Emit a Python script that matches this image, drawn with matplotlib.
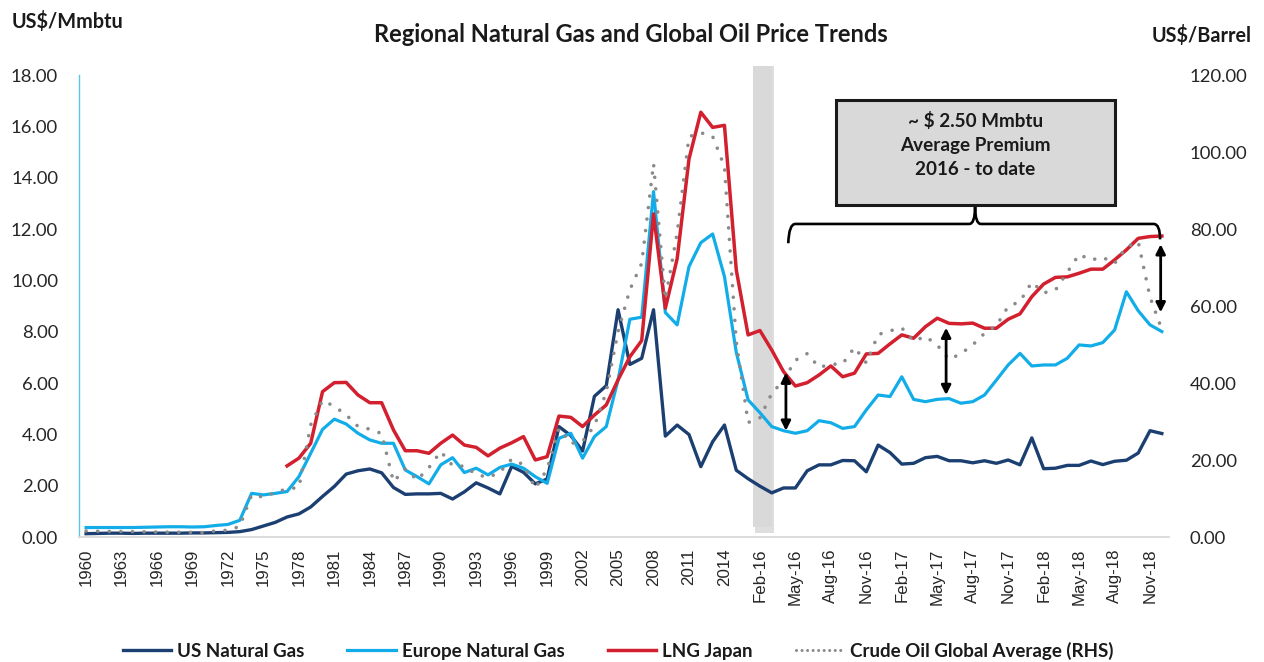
import matplotlib
matplotlib.use("Agg")
import matplotlib.pyplot as plt
import matplotlib.ticker as mticker
from matplotlib.lines import Line2D
from matplotlib.patches import Rectangle, PathPatch
from matplotlib.path import Path
import numpy as np

plt.rcParams['font.family'] = ['Lato', 'DejaVu Sans']

# categories: annual 1960-2015, then monthly Jan-16 .. Dec-18
years = [str(y) for y in range(1960, 2016)]
months = [m + "-" + yy for yy in ["16", "17", "18"]
          for m in ["Jan", "Feb", "Mar", "Apr", "May", "Jun",
                    "Jul", "Aug", "Sep", "Oct", "Nov", "Dec"]]
labels = years + months

# US$/Mmbtu
us_gas = [0.14, 0.15, 0.16, 0.16, 0.15, 0.16, 0.16, 0.16, 0.16, 0.17,
          0.17, 0.18, 0.19, 0.22, 0.30, 0.44, 0.58, 0.79, 0.91, 1.18,
          1.59, 1.98, 2.46, 2.59, 2.66, 2.51, 1.94, 1.67, 1.69, 1.69,
          1.71, 1.49, 1.77, 2.12, 1.92, 1.69, 2.76, 2.53, 2.08, 2.27,
          4.31, 3.96, 3.36, 5.49, 5.90, 8.86, 6.73, 6.97, 8.86, 3.94,
          4.37, 4.00, 2.75, 3.72, 4.37, 2.61,
          2.28, 1.99, 1.73, 1.92, 1.92, 2.59, 2.82, 2.82, 2.99, 2.98, 2.55, 3.59,
          3.30, 2.85, 2.88, 3.10, 3.15, 2.98, 2.98, 2.90, 2.98, 2.88, 3.01, 2.82,
          3.87, 2.67, 2.69, 2.80, 2.80, 2.97, 2.83, 2.96, 3.00, 3.28, 4.15, 4.04]

europe_gas = [0.38, 0.38, 0.38, 0.38, 0.38, 0.39, 0.40, 0.41, 0.41, 0.40,
              0.41, 0.46, 0.50, 0.66, 1.71, 1.65, 1.71, 1.78, 2.36, 3.27,
              4.20, 4.60, 4.41, 4.05, 3.79, 3.66, 3.66, 2.62, 2.36, 2.08,
              2.82, 3.10, 2.52, 2.69, 2.43, 2.72, 2.85, 2.69, 2.36, 2.10,
              3.85, 4.05, 3.08, 3.92, 4.31, 6.13, 8.49, 8.57, 13.46, 8.75,
              8.27, 10.54, 11.47, 11.81, 10.15, 7.20,
              5.35, 4.85, 4.31, 4.15, 4.05, 4.15, 4.54, 4.46, 4.24, 4.31, 4.96, 5.54,
              5.48, 6.25, 5.37, 5.28, 5.37, 5.40, 5.22, 5.28, 5.54, 6.12, 6.71, 7.16,
              6.67, 6.71, 6.71, 6.97, 7.49, 7.45, 7.58, 8.07, 9.56, 8.82, 8.27, 8.01]

lng_japan = [np.nan] * 17 + [
             2.78, 3.08, 3.66,
             5.67, 6.02, 6.03, 5.54, 5.24, 5.24, 4.18, 3.37, 3.37, 3.27,
             3.66, 3.98, 3.59, 3.50, 3.17, 3.47, 3.68, 3.92, 3.01, 3.14,
             4.72, 4.67, 4.31, 4.76, 5.15, 6.13, 7.03, 7.66, 12.59, 8.92,
             10.85, 14.73, 16.55, 15.96, 16.04, 10.41,
             7.88, 8.05, 7.29, 6.45, 5.89, 6.02, 6.32, 6.67, 6.25, 6.39, 7.14, 7.16,
             7.53, 7.88, 7.75, 8.20, 8.53, 8.33, 8.31, 8.34, 8.14, 8.14, 8.49, 8.70,
             9.37, 9.86, 10.12, 10.14, 10.28, 10.44, 10.44, 10.80, 11.19, 11.64, 11.71, 11.73]

# US$/Barrel (right axis)
crude_oil = [1.63, 1.57, 1.52, 1.50, 1.45, 1.42, 1.36, 1.33, 1.32, 1.29,
             1.21, 1.69, 1.82, 2.81, 10.97, 10.43, 11.63, 12.57, 12.90, 29.19,
             35.52, 34.00, 31.76, 28.77, 28.06, 26.92, 14.44, 17.75, 14.87, 18.08,
             22.26, 18.62, 18.44, 16.33, 15.53, 16.86, 20.29, 18.86, 12.72, 17.70,
             28.23, 24.35, 24.93, 28.90, 37.73, 53.39, 64.29, 71.12, 96.99, 61.76,
             79.04, 104.01, 105.01, 104.07, 96.24, 50.75,
             29.78, 31.03, 37.34, 40.75, 45.94, 47.69, 44.13, 44.88, 45.04, 49.29, 45.26, 52.62,
             53.59, 54.35, 50.90, 52.16, 49.89, 46.17, 47.66, 49.94, 52.95, 54.92, 59.93, 61.19,
             66.23, 63.46, 64.17, 68.79, 73.43, 71.98, 72.67, 71.08, 75.36, 76.73, 62.32, 53.96]

x = np.arange(len(labels))

fig = plt.figure(figsize=(12.64, 6.62), dpi=100)
ax = fig.add_axes([0.0625, 0.1884, 0.8623, 0.6983])
ax2 = ax.twinx()

# shaded separator between annual and monthly data
ax.add_patch(Rectangle((56.55, 0.15), 1.6, 18.2, facecolor="#bfbfbf",
                       edgecolor="none", alpha=0.5, zorder=0, clip_on=False))
ax.add_patch(Rectangle((56.4, 0.4), 1.6, 17.95, facecolor="#d9d9d9",
                       edgecolor="none", zorder=0.5, clip_on=False))

l1, = ax.plot(x, us_gas, color="#1c3f72", lw=2.4, label="US Natural Gas", zorder=2)
l2, = ax.plot(x, europe_gas, color="#12ade8", lw=2.3, label="Europe Natural Gas", zorder=2)
l3, = ax.plot(x, lng_japan, color="#d2202f", lw=2.5, label="LNG Japan", zorder=2)
l4, = ax2.plot(x, crude_oil, color="#8a8a8a", lw=2.6, linestyle=(0, (0.01, 3.2)),
               dash_capstyle="round", label="Crude Oil Global Average (RHS)")

ax.set_xlim(-0.6, len(labels) - 0.4)
ax.set_ylim(0, 18)
ax2.set_ylim(0, 120)
ax.set_yticks(np.arange(0, 18.1, 2))
ax2.set_yticks(np.arange(0, 121, 20))
ax.yaxis.set_major_formatter(mticker.StrMethodFormatter("{x:.2f}"))
ax2.yaxis.set_major_formatter(mticker.StrMethodFormatter("{x:.2f}"))

tick_idx = list(range(0, len(labels), 3))
ax.set_xticks(tick_idx)
ax.set_xticklabels([labels[i] for i in tick_idx], rotation=90,
                   fontfamily="Liberation Sans", fontsize=12.2)
ax.tick_params(axis="x", length=0, pad=8, colors="#262626")
ax.tick_params(axis="y", length=0, pad=15, labelsize=13.3, colors="#262626")
ax2.tick_params(axis="y", length=0, pad=15, labelsize=13.3, colors="#262626")

for a in (ax, ax2):
    for s in ("top", "right"):
        a.spines[s].set_visible(False)
ax2.spines["left"].set_visible(False)
ax2.spines["bottom"].set_visible(False)
ax.spines["left"].set_color("#5ec4ee")
ax.spines["left"].set_linewidth(1.0)
ax.spines["bottom"].set_color("#d9d9d9")
ax.spines["bottom"].set_linewidth(1.3)

# annotations drawn on top using left-axis data coords
tr = ax.transData
for xa, ytop, ybot in [(59.2, 6.41, 4.15), (72.75, 8.16, 5.54), (90.9, 11.41, 8.76)]:
    ax2.annotate("", xy=(xa, ytop), xytext=(xa, ybot), xycoords=tr, textcoords=tr,
                 arrowprops=dict(arrowstyle="<|-|>", color="black", lw=2.0,
                                 mutation_scale=14, shrinkA=0, shrinkB=0))

brace = Path([(59.4, 11.45), (59.45, 12.2), (60.0, 12.2), (74.7, 12.2),
              (75.2, 12.2), (75.2, 12.88), (75.2, 12.2), (75.7, 12.2),
              (90.3, 12.2), (90.85, 12.2), (90.85, 11.6)],
             [Path.MOVETO, Path.CURVE3, Path.CURVE3, Path.LINETO,
              Path.CURVE3, Path.CURVE3, Path.CURVE3, Path.CURVE3,
              Path.LINETO, Path.CURVE3, Path.CURVE3])
ax2.add_patch(PathPatch(brace, transform=tr, facecolor="none", edgecolor="black",
                        lw=1.9, clip_on=False))
ax2.add_patch(Rectangle((63.4, 12.94), 23.6, 4.1, transform=tr, facecolor="#d9d9d9",
                        edgecolor="#1a1a1a", lw=2.2, clip_on=False))
for yv, txt in [(16.22, "~ $ 2.50 Mmbtu"), (15.27, "Average Premium"), (14.33, "2016 - to date")]:
    ax2.text(75.2, yv, txt, transform=tr, ha="center", va="center",
             fontsize=13.6, fontweight="bold", color="#1a1a1a")

fig.text(0.4992, 0.9486, "Regional Natural Gas and Global Oil Price Trends",
         ha="center", va="center", fontsize=17, fontweight="bold", color="#1a1a1a")
fig.text(0.009, 0.9680, "US$/Mmbtu", ha="left", va="center",
         fontsize=14.3, fontweight="bold", color="#1a1a1a")
fig.text(0.9905, 0.9470, "US$/Barrel", ha="right", va="center",
         fontsize=14.2, fontweight="bold", color="#1a1a1a")

h4 = Line2D([], [], color="#8a8a8a", lw=2.2, linestyle=(0, (0.01, 1.8)),
            dash_capstyle="round")
leg = fig.legend([l1, l2, l3, h4],
                 ["US Natural Gas", "Europe Natural Gas", "LNG Japan",
                  "Crude Oil Global Average (RHS)"],
                 loc="center", bbox_to_anchor=(0.489, 1 - 651 / 662), ncol=4,
                 frameon=False, prop={"weight": "bold", "size": 13.5},
                 handlelength=2.6, handletextpad=0.3, columnspacing=2.3)
for t in leg.get_texts():
    t.set_color("#1a1a1a")

fig.savefig("out.png", dpi=100)
